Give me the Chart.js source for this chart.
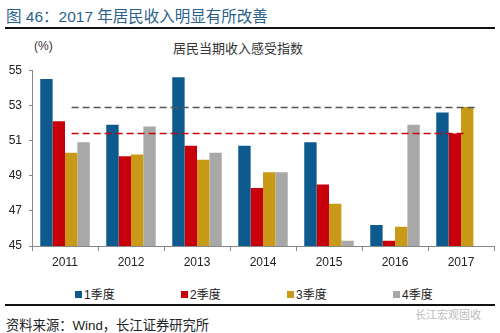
<!DOCTYPE html>
<html>
<head>
<meta charset="utf-8">
<script src="https://cdn.jsdelivr.net/npm/chart.js@4.4.1/dist/chart.umd.min.js"></script>
<style>
  html, body { margin: 0; padding: 0; background: #fff; }
  body { width: 500px; height: 333px; position: relative; overflow: hidden;
         font-family: 'Liberation Sans', 'Noto Sans CJK SC', sans-serif; }
  .abs { position: absolute; white-space: nowrap; }
  #pageTitle { left: 6px; top: 4px; font-size: 15.5px; color: #2b5f8c; }
  #topRule { left: 5px; top: 27px; width: 490px; height: 2px; background: #111; }
  #unit { left: 34px; top: 39px; font-size: 12px; color: #333; }
  #chartTitle { left: 173px; top: 38px; font-size: 13px; color: #333; }
  #chartBox { left: 0; top: 56px; width: 500px; height: 220px; }
  #legend .item { position: absolute; top: 285px; font-size: 12px; color: #222; }
  #legend .box { display: inline-block; width: 7px; height: 7px; margin-right: 2px; vertical-align: 1px; }
  #botRule { left: 5px; top: 304px; width: 490px; height: 1.5px; background: #111; }
  #source { left: 6px; top: 315px; font-size: 13.3px; color: #222; }
  #mark { left: 415px; top: 306px; font-size: 11px; color: #bbb; }
</style>
</head>
<body>
<div class="abs" id="pageTitle">图 46：2017 年居民收入明显有所改善</div>
<div class="abs" id="topRule"></div>
<div class="abs" id="unit">(%)</div>
<div class="abs" id="chartTitle">居民当期收入感受指数</div>
<div class="abs" id="chartBox"><canvas id="chart" width="500" height="220"></canvas></div>
<div id="legend"></div>
<div class="abs" id="botRule"></div>
<div class="abs" id="source">资料来源：Wind，长江证券研究所</div>
<div class="abs" id="mark">长江宏观固收</div>
<script>
// 居民当期收入感受指数, by year and quarter
const YEARS = ['2011', '2012', '2013', '2014', '2015', '2016', '2017'];
const Q1 = [54.5, 51.9, 54.6, 50.7, 50.9, 46.2, 52.6];
const Q2 = [52.1, 50.1, 50.7, 48.3, 48.5, 45.3, 51.4];
const Q3 = [50.3, 50.2, 49.9, 49.2, 47.4, 46.1, 52.9];
const Q4 = [50.9, 51.8, 50.3, 49.2, 45.3, 51.9, null];
const Y_TICKS = [45, 47, 49, 51, 53, 55];

// reference lines (dashed): level and extent in category units
const REF_GRAY = 52.9, REF_GRAY_SPAN = [0.6, 6.74];
const REF_RED = 51.4, REF_RED_SPAN = [0.6, 6.59];

const FONT = "'Liberation Sans', 'Noto Sans CJK SC', sans-serif";
const LEGEND_X = [75, 181, 287, 393];

function bar(label, data, color) {
    return { label, data, backgroundColor: color, borderWidth: 0,
             categoryPercentage: 0.75, barPercentage: 1.0 };
}

// dashed reference lines, placed through the y scale and a hidden linear x scale
const refLines = {
    id: 'refLines',
    afterDatasetsDraw(chart) {
        const { ctx, scales: { x2, y } } = chart;
        [[REF_GRAY, REF_GRAY_SPAN, '#555555'], [REF_RED, REF_RED_SPAN, '#c8000b']].forEach(([lvl, span, color]) => {
            const py = Math.round(y.getPixelForValue(lvl)) + 0.5;
            ctx.save();
            ctx.strokeStyle = color;
            ctx.lineWidth = 1.5;
            ctx.setLineDash([7, 4]);
            ctx.beginPath();
            ctx.moveTo(x2.getPixelForValue(span[0]), py);
            ctx.lineTo(x2.getPixelForValue(span[1]), py);
            ctx.stroke();
            ctx.restore();
        });
    }
};

const chart = new Chart(document.getElementById('chart'), {
    type: 'bar',
    data: {
        labels: YEARS,
        datasets: [
            bar('1季度', Q1, '#0c5a8e'),
            bar('2季度', Q2, '#c8000b'),
            bar('3季度', Q3, '#c99a17'),
            bar('4季度', Q4, '#a8a8a8')
        ]
    },
    options: {
        responsive: false, animation: false,
        layout: { padding: { left: 0, right: 6, top: 13, bottom: 0 } },
        scales: {
            x: {
                grid: { drawOnChartArea: false, tickLength: 5, color: '#888' },
                border: { color: '#888' },
                ticks: { font: { family: FONT, size: 12 }, color: '#222', padding: 4 },
                afterFit: s => { s.height = 30; }
            },
            x2: { type: 'linear', min: 0, max: 7, offset: false, grace: 0, display: false },
            y: {
                min: 45, max: 55,
                afterBuildTicks: s => { s.ticks = Y_TICKS.map(v => ({ value: v })); },
                grid: { drawOnChartArea: false, tickLength: 3, color: '#888' },
                border: { color: '#888' },
                ticks: { font: { family: FONT, size: 12 }, color: '#222', padding: 7 },
                afterFit: s => { s.width = 32; }
            }
        },
        plugins: { legend: { display: false }, tooltip: { enabled: false } }
    },
    plugins: [refLines]
});

// legend built from the chart's datasets
const legend = document.getElementById('legend');
chart.data.datasets.forEach((ds, i) => {
    const item = document.createElement('div');
    item.className = 'item';
    item.style.left = LEGEND_X[i] + 'px';
    item.innerHTML = `<span class="box" style="background:${ds.backgroundColor}"></span>${ds.label}`;
    legend.appendChild(item);
});
</script>
</body>
</html>
